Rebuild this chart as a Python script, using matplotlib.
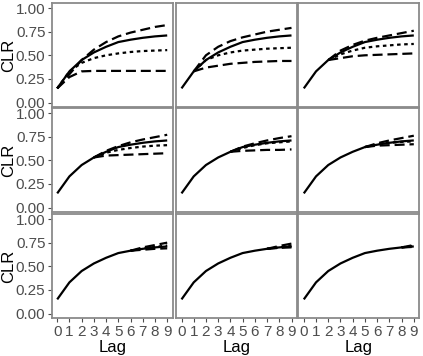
import numpy as np
import matplotlib
matplotlib.use("Agg")
import matplotlib.pyplot as plt

plt.rcParams['font.family'] = ['Liberation Sans', 'DejaVu Sans']

lags = np.arange(10)
# main curve, same in every panel
clr = [0.15, 0.33, 0.45, 0.53, 0.59, 0.64, 0.665, 0.685, 0.70, 0.71]

# each panel branches off the main curve at lag = panel index
branch_start = [0, 1, 2, 3, 4, 5, 6, 7, 8]
upper = [
    [0.15, 0.30, 0.45, 0.56, 0.64, 0.70, 0.74, 0.77, 0.80, 0.82],
    [0.33, 0.50, 0.59, 0.65, 0.69, 0.72, 0.75, 0.77, 0.79],
    [0.45, 0.55, 0.61, 0.655, 0.685, 0.71, 0.735, 0.76],
    [0.53, 0.60, 0.65, 0.69, 0.72, 0.745, 0.77],
    [0.59, 0.645, 0.68, 0.71, 0.735, 0.755],
    [0.64, 0.68, 0.71, 0.735, 0.76],
    [0.665, 0.70, 0.725, 0.75],
    [0.685, 0.715, 0.74],
    [0.70, 0.725],
]
middle = [
    [0.15, 0.33, 0.42, 0.47, 0.50, 0.52, 0.535, 0.545, 0.55, 0.555],
    [0.33, 0.45, 0.50, 0.53, 0.55, 0.56, 0.57, 0.575, 0.58],
    [0.45, 0.51, 0.55, 0.58, 0.595, 0.605, 0.615, 0.62],
    [0.53, 0.58, 0.61, 0.63, 0.645, 0.655, 0.66],
    [0.59, 0.63, 0.66, 0.68, 0.69, 0.70],
    [0.64, 0.67, 0.685, 0.695, 0.70],
    [0.665, 0.69, 0.705, 0.72],
    [0.685, 0.70, 0.715],
    [0.70, 0.715],
]
lower = [
    [0.15, 0.27, 0.33, 0.335, 0.335, 0.335, 0.335, 0.335, 0.335, 0.335],
    [0.33, 0.37, 0.39, 0.41, 0.42, 0.43, 0.435, 0.44, 0.44],
    [0.45, 0.47, 0.49, 0.50, 0.505, 0.51, 0.515, 0.52],
    [0.53, 0.55, 0.555, 0.56, 0.565, 0.57, 0.575],
    [0.59, 0.60, 0.605, 0.61, 0.61, 0.615],
    [0.64, 0.655, 0.66, 0.665, 0.67],
    [0.665, 0.675, 0.685, 0.69],
    [0.685, 0.695, 0.70],
    [0.70, 0.705],
]

W, H = 423, 356
fig = plt.figure(figsize=(W / 100, H / 100), dpi=100)

col_left = [51.7, 176.0, 298.3]
row_top = [3.3, 108.3, 214.3]
pw, ph = 121.0, 104.0

tick_col = '#4d4d4d'
for i in range(9):
    r, c = divmod(i, 3)
    ax = fig.add_axes([col_left[c] / W, 1 - (row_top[r] + ph) / H, pw / W, ph / H])
    ax.plot(lags, clr, color='black', lw=1.6, solid_capstyle='butt')
    s = branch_start[i]
    xb = lags[s:]
    ax.plot(xb, upper[i], color='black', lw=1.6, dashes=(4.5, 2.2))
    ax.plot(xb, middle[i], color='black', lw=1.6, dashes=(1.6, 1.6))
    ax.plot(xb, lower[i], color='black', lw=1.6, dashes=(4.5, 2.2))
    ax.set_xlim(-0.45, 9.45)
    ax.set_ylim(-0.05, 1.05)
    for sp in ax.spines.values():
        sp.set_color('#8a8a8a')
        sp.set_linewidth(1.3)
    ax.set_xticks(lags)
    ax.set_yticks([0, 0.25, 0.5, 0.75, 1.0])
    ax.tick_params(colors=tick_col, length=3, width=0.8, labelsize=11, pad=1.5)
    if c == 0:
        ax.set_yticklabels(['0.00', '0.25', '0.50', '0.75', '1.00'])
        ax.set_ylabel('CLR', fontsize=12)
        ax.yaxis.set_label_coords(-0.29, 0.5)
    else:
        ax.tick_params(axis='y', left=False, labelleft=False)
    if r == 2:
        ax.set_xlabel('Lag', fontsize=12, labelpad=1)
    else:
        ax.tick_params(axis='x', bottom=False, labelbottom=False)

fig.savefig('out.png', dpi=100)
